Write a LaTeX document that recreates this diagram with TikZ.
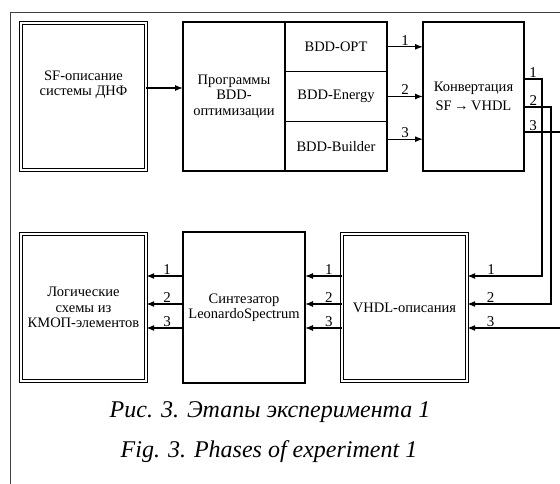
\documentclass[tikz,border=0pt]{standalone}
\usepackage{fontspec}
\setmainfont{Liberation Serif}
\usetikzlibrary{positioning, arrows.meta}

\begin{document}
\begin{tikzpicture}[x=1pt, y=1pt,
  box/.style={draw=black, line width=1.2pt, outer sep=0pt, inner sep=0pt,
    minimum width=102pt, minimum height=149pt, align=center,
    font=\fontsize{14.5}{15.5}\selectfont},
  dbox/.style={box, double, double distance=2pt, line width=0.8pt,
    minimum width=125.4pt, minimum height=147pt},
  sub/.style={box, minimum height=49.67pt},
  link/.style={line width=1.2pt, -{Latex[length=8pt,width=6pt]}},
  num/.style={above, inner sep=1pt, font=\fontsize{15}{15}\selectfont},
  capt/.style={font=\fontsize{24}{24}\selectfont\itshape}
]
  \useasboundingbox (0,0) rectangle (560,-484);
  \clip (0,0) rectangle (560,-484);

  % frame of the figure
  \draw[line width=1pt, black!75] (10,-520) |- (600,-13);

  \node[dbox, label={[align=center, yshift=12pt, font=\fontsize{14.5}{15.5}\selectfont]center:SF-описание\\системы ДНФ}] (sfdesc) at (83.5,-96.5) {};
  \node[box] (progs) at (234,-96.5) {Программы\\BDD-\\оптимизации};
  \node[sub, anchor=north west] (opt) at (progs.north east) {BDD-OPT};
  \node[sub, below=0pt of opt] (energy) {BDD-Energy};
  \node[sub, below=0pt of energy] (builder) {BDD-Builder};
  \node[box, minimum width=101pt] (conv) at (473.5,-96.5) {Конвертация\\[3pt]SF\,→\,VHDL};

  \node[dbox] (logic) at (83.5,-307.5) {Логические\\схемы из\\КМОП-элементов};
  \node[box, minimum width=122pt, minimum height=151pt] (synth) at (244,-307.5) {Синтезатор\\LeonardoSpectrum};
  \node[dbox] (vhdl) at (404.5,-307.5) {VHDL-описания};

  \draw[link] ([yshift=8.5pt]sfdesc.east) -- ([yshift=8.5pt]progs.west);

  \draw[link] (opt.east) -- node[num] {1} (opt.east -| conv.west);
  \draw[link] (energy.east) -- node[num] {2} (energy.east -| conv.west);
  \draw[link] ([yshift=7pt]builder.east) -- node[num] {3} ([yshift=7pt]builder.east -| conv.west);

  \draw[link] ([yshift=17.5pt]conv.east) -- node[num] {1} ++(18,0)
      |- node[num, pos=0.84] {1} ([yshift=31.5pt]vhdl.east);
  \draw[link] ([yshift=-10.5pt]conv.east) -- node[num, pos=0.35] {2} ++(27,0)
      |- node[num, pos=0.86] {2} ([yshift=3.5pt]vhdl.east);
  \draw[link] ([yshift=-35.5pt]conv.east) -- node[num, pos=0.18] {3} ++(50,0)
      |- node[num, pos=0.89] {3} ([yshift=-20.5pt]vhdl.east);

  \draw[link] ([yshift=31.5pt]vhdl.west) -- node[num, pos=0.35] {1} ([yshift=31.5pt]synth.east);
  \draw[link] ([yshift=3.5pt]vhdl.west) -- node[num, pos=0.35] {2} ([yshift=3.5pt]synth.east);
  \draw[link] ([yshift=-20.5pt]vhdl.west) -- node[num, pos=0.35] {3} ([yshift=-20.5pt]synth.east);

  \draw[link] ([yshift=31.5pt]synth.west) -- node[num, pos=0.43] {1} ([yshift=31.5pt]logic.east);
  \draw[link] ([yshift=3.5pt]synth.west) -- node[num, pos=0.43] {2} ([yshift=3.5pt]logic.east);
  \draw[link] ([yshift=-20.5pt]synth.west) -- node[num, pos=0.43] {3} ([yshift=-20.5pt]logic.east);

  \node[capt] (capru) at (270,-412) {Рис. 3. Этапы эксперимента 1};
  \node[capt] (capen) at (269,-452) {Fig. 3. Phases of experiment 1};
\end{tikzpicture}
\end{document}
